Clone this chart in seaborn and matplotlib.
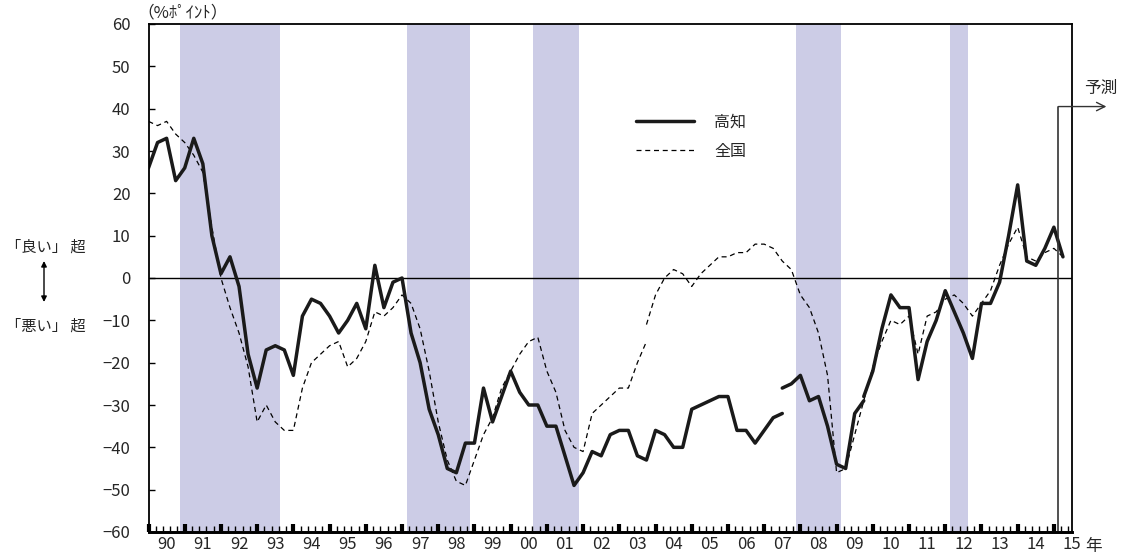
import numpy as np
import seaborn as sns
import matplotlib.pyplot as plt
from matplotlib.lines import Line2D

# quarterly DI, 1990Q1 .. 2015Q2 (last one is the forecast)
# series breaks: 高知 2006Q4, 2009Q4 / 全国 2003Q4 (old and new values both shown)
kochi_a = [26, 32, 33, 23, 26, 33, 27, 10, 1, 5, -2, -18, -26, -17, -16, -17,
           -23, -9, -5, -6, -9, -13, -10, -6, -12, 3, -7, -1, 0, -13, -20, -31,
           -37, -45, -46, -39, -39, -26, -34, -28, -22, -27, -30, -30, -35, -35, -42, -49,
           -46, -41, -42, -37, -36, -36, -42, -43, -36, -37, -40, -40, -31, -30, -29, -28,
           -28, -36, -36, -39, -36, -33, -32]
kochi_b = [-26, -25, -23, -29, -28, -35, -44, -45, -32, -29]
kochi_c = [-28, -22, -12, -4, -7, -7, -24, -15, -10, -3, -8, -13, -19, -6, -6, -1,
           10, 22, 4, 3, 7, 12, 5]

zenkoku_a = [37, 36, 37, 34, 32, 29, 25, 12, 0, -7, -13, -21, -34, -30, -34, -36,
             -36, -26, -20, -18, -16, -15, -21, -19, -15, -8, -9, -7, -4, -6, -12, -22,
             -34, -43, -48, -49, -43, -37, -33, -26, -22, -18, -15, -14, -22, -27, -36, -40,
             -41, -32, -30, -28, -26, -26, -20, -15]
zenkoku_b = [-11, -4, 0, 2, 1, -2, 1, 3, 5, 5, 6, 6, 8, 8, 7, 4,
             2, -4, -7, -13, -23, -46, -45, -37, -29, -21, -15, -10, -11, -9, -18, -9,
             -8, -5, -4, -6, -9, -6, -3, 3, 8, 12, 5, 4, 6, 7, 5]

years = ["90", "91", "92", "93", "94", "95", "96", "97", "98", "99", "00", "01", "02",
         "03", "04", "05", "06", "07", "08", "09", "10", "11", "12", "13", "14", "15"]

# recession periods (quarter index)
recessions = [(3.5, 14.5), (28.5, 35.5), (42.5, 47.5), (71.5, 76.5), (88.5, 90.5)]

q = np.arange(102)
forecast_pos = 100.5
arrow_y = 40.5

sns.set_style("ticks")
plt.rcParams['font.family'] = ['Noto Sans CJK JP', 'DejaVu Sans']

W, H = 1121, 557
fig = plt.figure(figsize=(W / 100, H / 100), dpi=100)
ax = fig.add_axes([148.5 / W, 1 - 532 / H, (1072 - 148.5) / W, (532 - 24) / H])

for a, b in recessions:
    ax.axvspan(a, b, color="#cccce6", lw=0, zorder=0)
ax.axhline(0, color="black", lw=1.0, zorder=1)

solid = dict(color="#1a1a1a", lw=2.5, ax=ax)
dash = dict(color="black", lw=0.9, linestyle=(0, (4, 3)), ax=ax)
sns.lineplot(x=q[0:56], y=zenkoku_a, **dash)
sns.lineplot(x=q[55:102], y=zenkoku_b, **dash)
sns.lineplot(x=q[0:71], y=kochi_a, **solid)
sns.lineplot(x=q[70:80], y=kochi_b, **solid)
sns.lineplot(x=q[79:102], y=kochi_c, **solid)

ax.set_xlim(0, 102)
ax.set_ylim(-60, 60)
ax.set_yticks(range(-60, 61, 10))
ax.tick_params(axis="y", direction="in", length=4, width=1, pad=13, labelsize=12,
               left=True, color="black")

ax.set_xticks([4 * k + 2 for k in range(len(years))])
ax.set_xticklabels(years)
ax.tick_params(axis="x", which="major", length=0, pad=3, labelsize=12)

# year marks (thick) and small marks between them, on a twin bottom axis
sec = ax.secondary_xaxis("bottom")
sec.set_xticks(range(0, 102, 4))
sec.set_xticks([4 * k + 0.8 * j for k in range(26) for j in range(1, 5) if 4 * k + 0.8 * j < 102],
               minor=True)
sec.tick_params(which="major", direction="in", length=6, width=3, labelbottom=False, color="black")
sec.tick_params(which="minor", direction="in", length=4, width=1, bottom=True, color="black")

for s in ax.spines.values():
    s.set_visible(True)
    s.set_color("black")
    s.set_linewidth(1.3)
ax.spines["bottom"].set_linewidth(2)
sec.spines["bottom"].set_linewidth(2)

# forecast marker
ax.axvline(forecast_pos, ymin=0, ymax=(arrow_y + 60) / 120, color="#333333", lw=1.2)
ax.annotate("", xy=(105.8, arrow_y), xytext=(forecast_pos, arrow_y), annotation_clip=False,
            arrowprops=dict(arrowstyle="->", lw=1.0, color="#333333", mutation_scale=15,
                            shrinkA=0, shrinkB=0))
fig.text(1101 / W, 1 - 88 / H, "予測", ha="center", va="center", fontsize=12)

handles = [Line2D([], [], color="#1a1a1a", lw=2.5),
           Line2D([], [], color="black", lw=0.9, linestyle=(0, (4, 3)))]
ax.legend(handles, ["高知", "全国"], loc="upper left", bbox_to_anchor=(636 / W, 1 - 114 / H),
          bbox_transform=fig.transFigure, frameon=False, handlelength=3.6,
          handletextpad=1.3, labelspacing=0.75, borderpad=0, borderaxespad=0, fontsize=11.5)

fig.text(137 / W, 1 - 13 / H, "（%ﾎﾟｲﾝﾄ）", ha="left", va="center", fontsize=12)
fig.text(46 / W, 1 - 247 / H, "「良い」 超", ha="center", va="center", fontsize=11)
fig.text(46 / W, 1 - 326 / H, "「悪い」 超", ha="center", va="center", fontsize=11)
ax.annotate("", xy=(44 / W, 1 - 261 / H), xytext=(44 / W, 1 - 302 / H),
            xycoords="figure fraction", textcoords="figure fraction",
            arrowprops=dict(arrowstyle="<|-|>", lw=1.0, color="black", mutation_scale=8,
                            shrinkA=0, shrinkB=0))
fig.text(1094 / W, 1 - 547 / H, "年", ha="center", va="center", fontsize=12)

fig.savefig("out.png", dpi=100)
